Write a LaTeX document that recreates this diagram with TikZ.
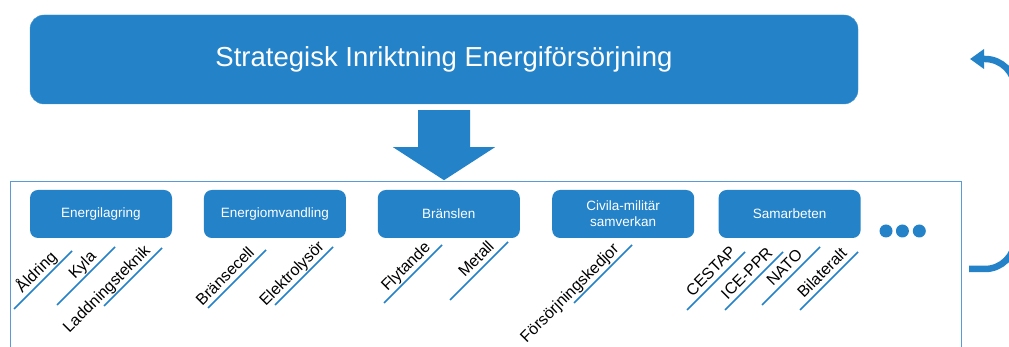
\documentclass[tikz,border=0pt]{standalone}
\usepackage{fontspec}
\setmainfont{Liberation Sans}
\usepackage{xcolor}
\usepackage{tikz}
\usetikzlibrary{positioning,arrows.meta}
\definecolor{fmblue}{RGB}{35,130,200}
\definecolor{frameblue}{RGB}{91,155,213}

\begin{document}
\begin{tikzpicture}[x=1pt, y=1pt,
  head/.style={fill=fmblue, draw=fmblue!85!white, rounded corners=14pt, minimum width=828pt,
               minimum height=89pt, text=white, font=\fontsize{27.5}{33}\selectfont},
  area/.style={fill=fmblue, rounded corners=8pt, minimum width=142pt, minimum height=48pt,
               text=white, align=center, font=\fontsize{13.5}{16}\selectfont},
  panel/.style={draw=frameblue, line width=1pt, minimum width=951pt, minimum height=171pt,
                anchor=north west, inner sep=0pt},
  tag/.style={rotate=45, anchor=south east, inner xsep=10pt, inner ysep=5pt, text depth=0pt,
              font=\fontsize{16}{19}\selectfont},
  uline/.style={draw=fmblue, line width=1.6pt},
  dot/.style={circle, fill=fmblue, minimum size=13pt, inner sep=0pt},
  loop/.style={draw=fmblue, line width=6.5pt, -{Triangle[length=14pt, width=19pt]}},
]
\useasboundingbox (0,0) rectangle (1009,347);
\node[head] (strat) at (444,287.5) {Strategisk Inriktning Energiförsörjning};
\fill[fmblue] ([xshift=-26pt, yshift=-6pt]strat.south) -- ++(52,0) -- ++(0,-37) -- ++(25,0)
  -- ++(-51,-33) -- ++(-51,33) -- ++(25,0) -- cycle;
\node[panel] (frame) at (10,166) {};

\node[area] (lagring) at (101,133) {Energilagring};
\node[area, right=31.5pt of lagring] (omvandl) {Energiomvandling};
\node[area, right=31.5pt of omvandl] (bransle) {Bränslen};
\node[area, right=32pt of bransle] (civil) {Civila-militär\\samverkan};
\node[area, right=24pt of civil] (samarb) {Samarbeten};
\node[dot, right=18.5pt of samarb, yshift=-17pt] (dot1) {};
\node[dot, right=3pt of dot1] (dot2) {};
\node[dot, right=3.5pt of dot2] (dot3) {};

\node[tag, inner xsep=15pt] (aldring) at (72,96) {Åldring};
\draw[uline] (aldring.south east) -- ++(-58,-58);
\node[tag, inner xsep=20pt] (kyla) at (115,100) {Kyla};
\draw[uline] (kyla.south east) -- ++(-58,-58);
\node[tag] (laddn) at (162,99) {Laddningsteknik};
\draw[uline] (laddn.south east) -- ++(-58,-58);
\node[tag] (cell) at (266,97) {Bränsecell};
\draw[uline] (cell.south east) -- ++(-58,-58);
\node[tag, inner xsep=6pt] (elektro) at (333,100) {Elektrolysör};
\draw[uline] (elektro.south east) -- ++(-58,-58);
\node[tag] (flyt) at (442,102) {Flytande};
\draw[uline] (flyt.south east) -- ++(-58,-58);
\node[tag, inner xsep=13pt] (metall) at (508,105) {Metall};
\draw[uline] (metall.south east) -- ++(-58,-58);
\node[tag, inner xsep=12pt] (kedjor) at (632,102) {Försörjningskedjor};
\draw[uline] (kedjor.south east) -- ++(-58,-58);
\node[tag, inner xsep=6pt] (cestap) at (745,95) {CESTAP};
\draw[uline] (cestap.south east) -- ++(-58,-58);
\node[tag, inner xsep=8pt] (iceppr) at (783,95) {ICE-PPR};
\draw[uline] (iceppr.south east) -- ++(-58,-58);
\node[tag, inner xsep=18pt] (nato) at (820,100) {NATO};
\draw[uline] (nato.south east) -- ++(-58,-58);
\node[tag, inner xsep=9pt] (bilat) at (858,95) {Bilateralt};
\draw[uline] (bilat.south east) -- ++(-58,-58);

\coordinate (loopin) at (969,78);
\coordinate (loopout) at (970,288);
\draw[loop] (loopin) -- ++(16,0) arc[start angle=-90, end angle=0, radius=30] -- ++(0,150)
  arc[start angle=0, end angle=90, radius=30] -- (loopout);
\end{tikzpicture}
\end{document}
